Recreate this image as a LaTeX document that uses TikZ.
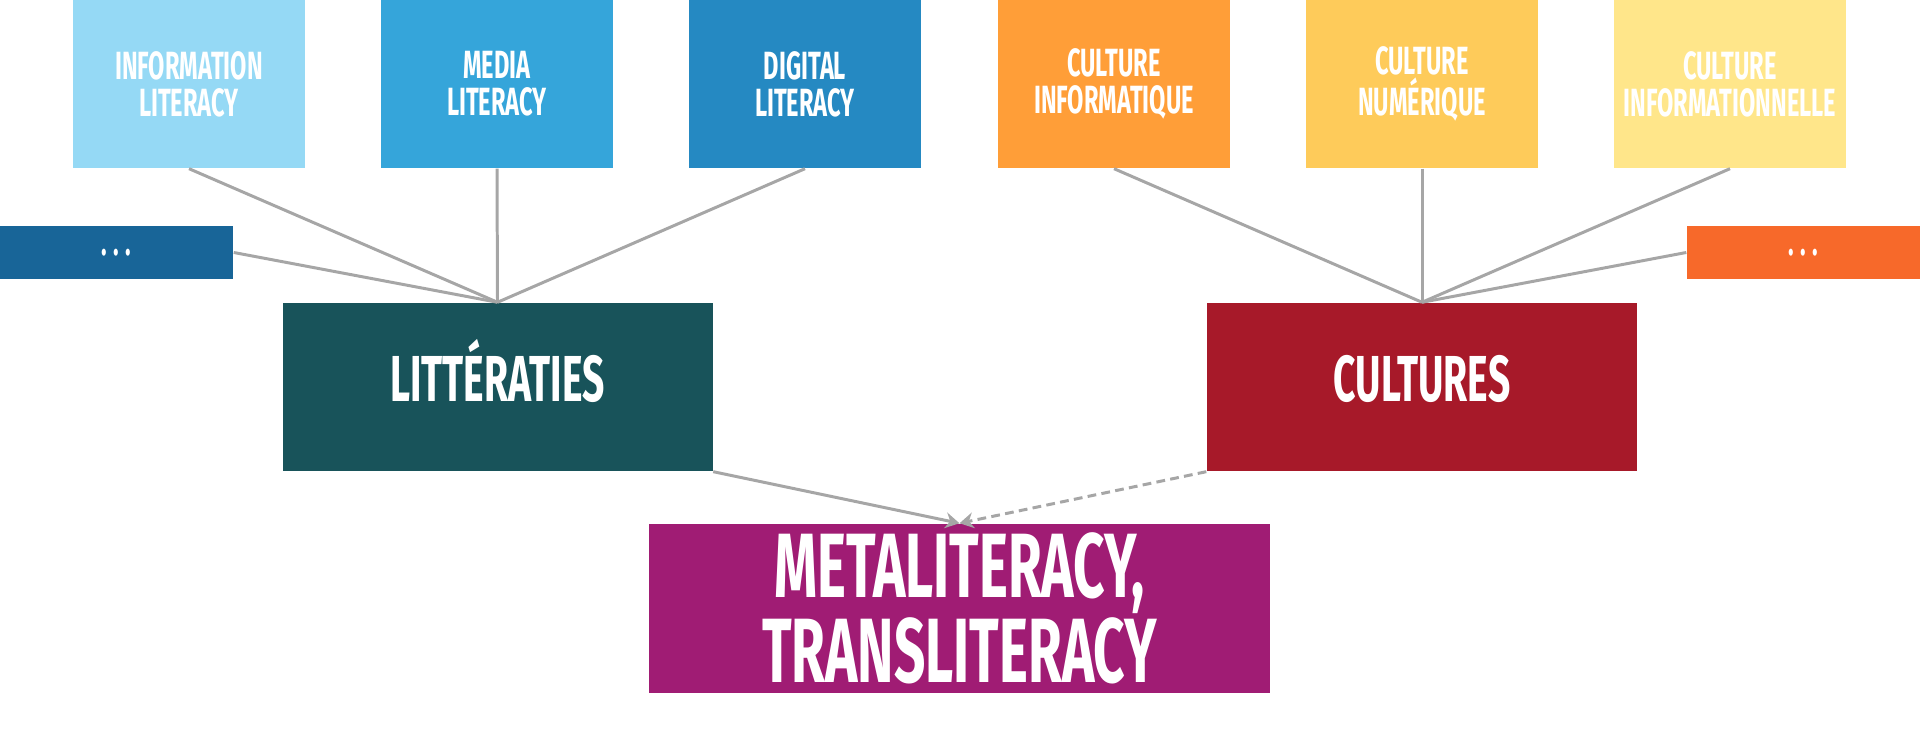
\documentclass[tikz,border=0pt]{standalone}
\usepackage{fontspec}
\setmainfont{Fira Sans}[FakeStretch=0.6]
\usetikzlibrary{arrows.meta}
\definecolor{infolit}{HTML}{95D9F5}
\definecolor{medialit}{HTML}{35A5DA}
\definecolor{digilit}{HTML}{2589C2}
\definecolor{litmore}{HTML}{186598}
\definecolor{cultinfo}{HTML}{FF9E38}
\definecolor{cultnum}{HTML}{FECB5A}
\definecolor{cultinfon}{HTML}{FFE68A}
\definecolor{cultmore}{HTML}{F7692A}
\definecolor{littcol}{HTML}{18535A}
\definecolor{cultcol}{HTML}{A71929}
\definecolor{metacol}{HTML}{A01C74}
\definecolor{linkgray}{HTML}{A6A6A6}
\begin{document}
\begin{tikzpicture}[
  box/.style={inner sep=0pt,text=white,align=center,font=\bfseries},
  small/.style={box,minimum width=2.32cm,minimum height=1.68cm,font=\bfseries\fontsize{11.2}{10.5}\selectfont},
  more/.style={box,minimum width=2.33cm,minimum height=0.53cm,font=\bfseries\fontsize{11}{10}\selectfont},
  big/.style={box,minimum width=4.30cm,minimum height=1.68cm,text height=0.55cm,text depth=0.26cm,font=\bfseries\fontsize{18.5}{18}\selectfont},
  link/.style={draw=linkgray,line width=0.85pt},
  tip/.style={-{Stealth[length=4pt,width=4.5pt]}}]
\useasboundingbox (0,0) rectangle (19.2,7.34);
\node[small,fill=infolit] (info) at (1.89,6.50) {INFORMATION\\LITERACY};
\node[small,fill=medialit] (media) at (4.97,6.50) {MEDIA\\LITERACY};
\node[small,fill=digilit] (digi) at (8.05,6.50) {DIGITAL\\LITERACY};
\node[small,fill=cultinfo] (cinfo) at (11.14,6.50) {CULTURE\\INFORMATIQUE};
\node[small,fill=cultnum] (cnum) at (14.22,6.50) {CULTURE\\NUMÉRIQUE};
\node[small,fill=cultinfon] (cinfon) at (17.30,6.50) {CULTURE\\INFORMATIONNELLE};
\node[more,fill=litmore] (lmore) at (1.165,4.815) {.\,.\,.};
\node[more,fill=cultmore] (cmore) at (18.035,4.815) {.\,.\,.};
\node[big,fill=littcol] (litt) at (4.975,3.47) {LITTÉRATIES};
\node[big,fill=cultcol] (cult) at (14.22,3.47) {CULTURES};
\node[box,minimum width=6.21cm,minimum height=1.69cm,fill=metacol,font=\bfseries\fontsize{26}{23}\selectfont] (meta) at (9.595,1.255) {METALITERACY,\\TRANSLITERACY};
\foreach \n in {info,media,digi} \draw[link] (\n.south) -- (litt.north);
\draw[link] (lmore.east) -- (litt.north);
\foreach \n in {cinfo,cnum,cinfon} \draw[link] (\n.south) -- (cult.north);
\draw[link] (cmore.west) -- (cult.north);
\draw[link,tip] (litt.south east) -- (meta.north);
\draw[link,tip,dash pattern=on 2.5pt off 1.5pt] (cult.south west) -- (meta.north);
\end{tikzpicture}
\end{document}
